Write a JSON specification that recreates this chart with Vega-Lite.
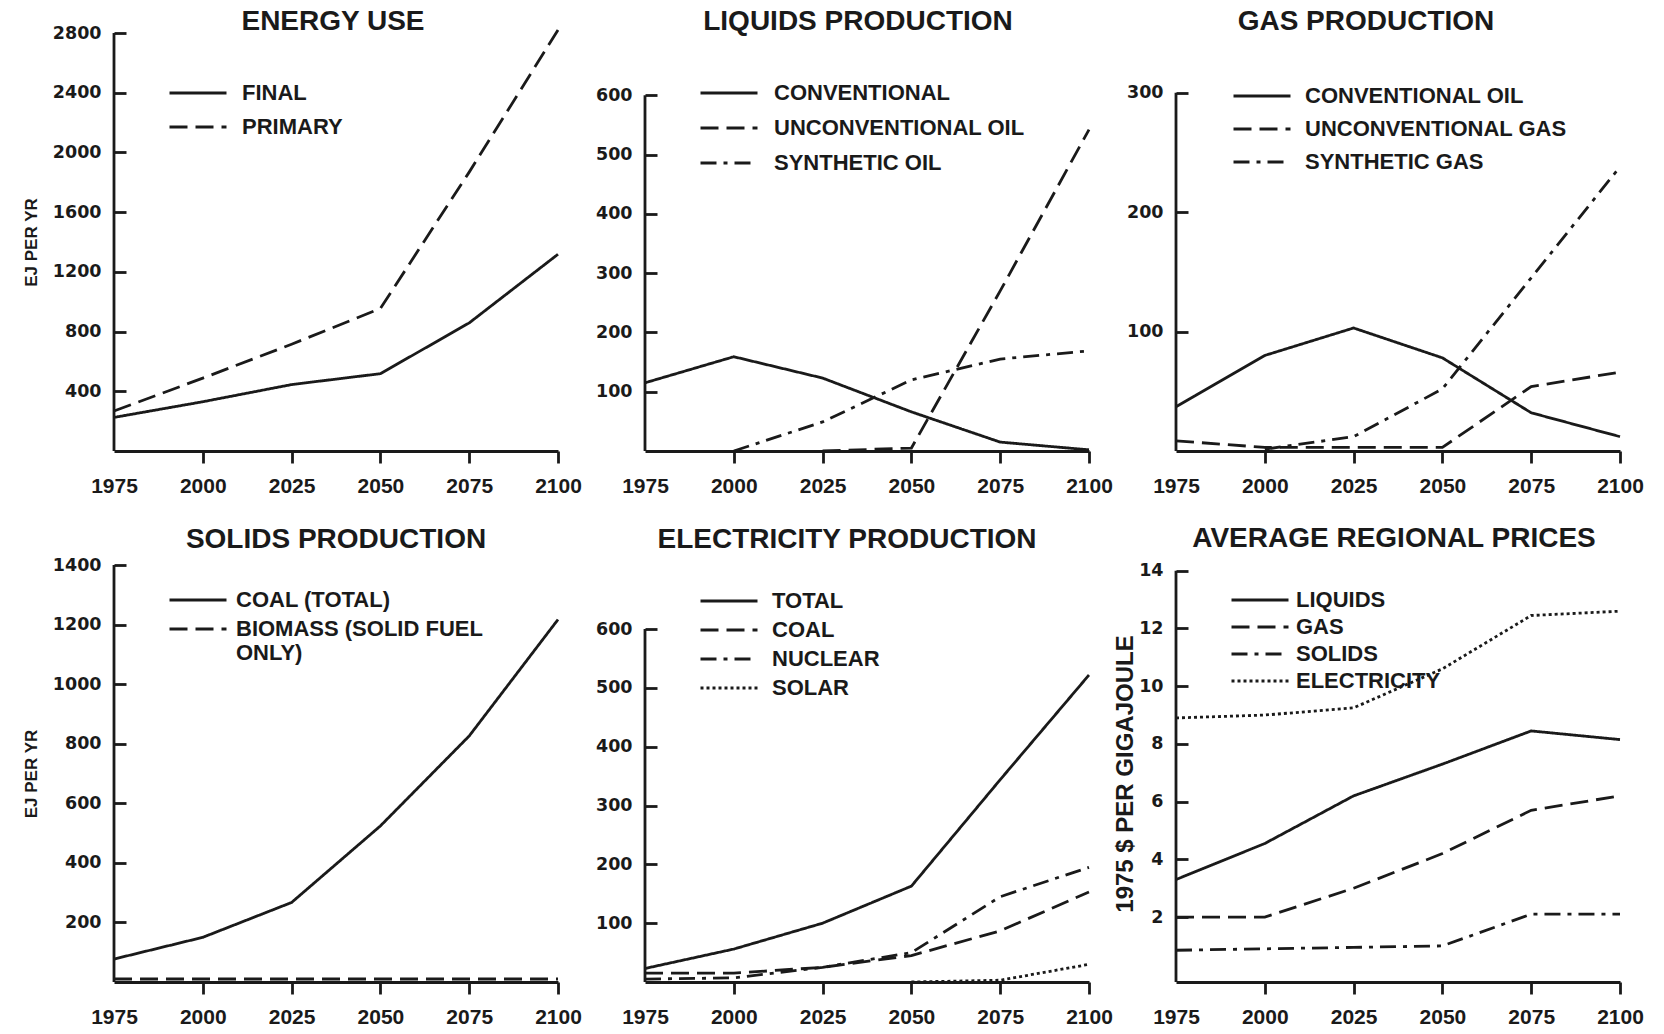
{
  "$schema": "https://vega.github.io/schema/vega-lite/v6.json",
  "background": "white",
  "padding": {"left": 22, "top": 7, "right": 10, "bottom": 6},
  "datasets": {
    "energy": [
      {"year": 1975, "series": "FINAL", "value": 225},
      {"year": 2000, "series": "FINAL", "value": 330},
      {"year": 2025, "series": "FINAL", "value": 445},
      {"year": 2050, "series": "FINAL", "value": 518},
      {"year": 2075, "series": "FINAL", "value": 858},
      {"year": 2100, "series": "FINAL", "value": 1318},
      {"year": 1975, "series": "PRIMARY", "value": 268},
      {"year": 2000, "series": "PRIMARY", "value": 488},
      {"year": 2025, "series": "PRIMARY", "value": 715},
      {"year": 2050, "series": "PRIMARY", "value": 955},
      {"year": 2075, "series": "PRIMARY", "value": 1868},
      {"year": 2100, "series": "PRIMARY", "value": 2820}
    ],
    "liquids": [
      {"year": 1975, "series": "CONVENTIONAL", "value": 115},
      {"year": 2000, "series": "CONVENTIONAL", "value": 159},
      {"year": 2025, "series": "CONVENTIONAL", "value": 123},
      {"year": 2050, "series": "CONVENTIONAL", "value": 66},
      {"year": 2075, "series": "CONVENTIONAL", "value": 15},
      {"year": 2100, "series": "CONVENTIONAL", "value": 2},
      {"year": 2025, "series": "UNCONVENTIONAL OIL", "value": 0},
      {"year": 2050, "series": "UNCONVENTIONAL OIL", "value": 5},
      {"year": 2075, "series": "UNCONVENTIONAL OIL", "value": 270},
      {"year": 2100, "series": "UNCONVENTIONAL OIL", "value": 542},
      {"year": 2000, "series": "SYNTHETIC OIL", "value": 0},
      {"year": 2025, "series": "SYNTHETIC OIL", "value": 49},
      {"year": 2050, "series": "SYNTHETIC OIL", "value": 120},
      {"year": 2075, "series": "SYNTHETIC OIL", "value": 155},
      {"year": 2100, "series": "SYNTHETIC OIL", "value": 169}
    ],
    "gas": [
      {"year": 1975, "series": "CONVENTIONAL OIL", "value": 37},
      {"year": 2000, "series": "CONVENTIONAL OIL", "value": 80},
      {"year": 2025, "series": "CONVENTIONAL OIL", "value": 103},
      {"year": 2050, "series": "CONVENTIONAL OIL", "value": 78},
      {"year": 2075, "series": "CONVENTIONAL OIL", "value": 32},
      {"year": 2100, "series": "CONVENTIONAL OIL", "value": 12},
      {"year": 1975, "series": "UNCONVENTIONAL GAS", "value": 8.5},
      {"year": 2000, "series": "UNCONVENTIONAL GAS", "value": 3},
      {"year": 2025, "series": "UNCONVENTIONAL GAS", "value": 3},
      {"year": 2050, "series": "UNCONVENTIONAL GAS", "value": 3},
      {"year": 2075, "series": "UNCONVENTIONAL GAS", "value": 54},
      {"year": 2100, "series": "UNCONVENTIONAL GAS", "value": 66},
      {"year": 2000, "series": "SYNTHETIC GAS", "value": 1.5},
      {"year": 2025, "series": "SYNTHETIC GAS", "value": 12},
      {"year": 2050, "series": "SYNTHETIC GAS", "value": 52},
      {"year": 2075, "series": "SYNTHETIC GAS", "value": 145},
      {"year": 2100, "series": "SYNTHETIC GAS", "value": 238}
    ],
    "solids": [
      {"year": 1975, "series": "COAL (TOTAL)", "value": 77},
      {"year": 2000, "series": "COAL (TOTAL)", "value": 150},
      {"year": 2025, "series": "COAL (TOTAL)", "value": 267},
      {"year": 2050, "series": "COAL (TOTAL)", "value": 524},
      {"year": 2075, "series": "COAL (TOTAL)", "value": 826},
      {"year": 2100, "series": "COAL (TOTAL)", "value": 1217},
      {"year": 1975, "series": "BIOMASS (SOLID FUEL ONLY)", "value": 10},
      {"year": 2000, "series": "BIOMASS (SOLID FUEL ONLY)", "value": 10},
      {"year": 2025, "series": "BIOMASS (SOLID FUEL ONLY)", "value": 10},
      {"year": 2050, "series": "BIOMASS (SOLID FUEL ONLY)", "value": 10},
      {"year": 2075, "series": "BIOMASS (SOLID FUEL ONLY)", "value": 10},
      {"year": 2100, "series": "BIOMASS (SOLID FUEL ONLY)", "value": 10}
    ],
    "electricity": [
      {"year": 1975, "series": "TOTAL", "value": 23},
      {"year": 2000, "series": "TOTAL", "value": 56},
      {"year": 2025, "series": "TOTAL", "value": 100},
      {"year": 2050, "series": "TOTAL", "value": 163},
      {"year": 2075, "series": "TOTAL", "value": 344},
      {"year": 2100, "series": "TOTAL", "value": 522},
      {"year": 1975, "series": "COAL", "value": 15},
      {"year": 2000, "series": "COAL", "value": 15},
      {"year": 2025, "series": "COAL", "value": 25},
      {"year": 2050, "series": "COAL", "value": 45},
      {"year": 2075, "series": "COAL", "value": 87},
      {"year": 2100, "series": "COAL", "value": 153},
      {"year": 1975, "series": "NUCLEAR", "value": 5},
      {"year": 2000, "series": "NUCLEAR", "value": 7},
      {"year": 2025, "series": "NUCLEAR", "value": 25},
      {"year": 2050, "series": "NUCLEAR", "value": 50},
      {"year": 2075, "series": "NUCLEAR", "value": 145},
      {"year": 2100, "series": "NUCLEAR", "value": 195},
      {"year": 2050, "series": "SOLAR", "value": 0},
      {"year": 2075, "series": "SOLAR", "value": 3},
      {"year": 2100, "series": "SOLAR", "value": 30}
    ],
    "prices": [
      {"year": 1975, "series": "LIQUIDS", "value": 3.3},
      {"year": 2000, "series": "LIQUIDS", "value": 4.55},
      {"year": 2025, "series": "LIQUIDS", "value": 6.2},
      {"year": 2050, "series": "LIQUIDS", "value": 7.3},
      {"year": 2075, "series": "LIQUIDS", "value": 8.45},
      {"year": 2100, "series": "LIQUIDS", "value": 8.15},
      {"year": 1975, "series": "GAS", "value": 2.0},
      {"year": 2000, "series": "GAS", "value": 2.0},
      {"year": 2025, "series": "GAS", "value": 3.0},
      {"year": 2050, "series": "GAS", "value": 4.2},
      {"year": 2075, "series": "GAS", "value": 5.7},
      {"year": 2100, "series": "GAS", "value": 6.2},
      {"year": 1975, "series": "SOLIDS", "value": 0.85},
      {"year": 2000, "series": "SOLIDS", "value": 0.9},
      {"year": 2025, "series": "SOLIDS", "value": 0.95},
      {"year": 2050, "series": "SOLIDS", "value": 1.0},
      {"year": 2075, "series": "SOLIDS", "value": 2.1},
      {"year": 2100, "series": "SOLIDS", "value": 2.1},
      {"year": 1975, "series": "ELECTRICITY", "value": 8.9},
      {"year": 2000, "series": "ELECTRICITY", "value": 9.0},
      {"year": 2025, "series": "ELECTRICITY", "value": 9.25},
      {"year": 2050, "series": "ELECTRICITY", "value": 10.6},
      {"year": 2075, "series": "ELECTRICITY", "value": 12.45},
      {"year": 2100, "series": "ELECTRICITY", "value": 12.6}
    ]
  },
  "columns": 3,
  "spacing": {"row": 114, "column": 87},
  "bounds": "flush",
  "concat": [
    {
      "width": 444, "height": 418,
      "title": {"text": "ENERGY USE", "dx": -3, "offset": -11.7},
      "layer": [
        {
          "data": {"name": "energy"},
          "mark": {"type": "line", "strokeWidth": 2.8, "color": "#1a1a1a"},
          "encoding": {
            "x": {"field": "year", "type": "quantitative", "scale": {"domain": [1975, 2100], "nice": false},
                  "axis": {"values": [1975, 2000, 2025, 2050, 2075, 2100], "format": "d", "title": null,
                           "tickColor": {"condition": {"test": "datum.value === 1975", "value": "transparent"}, "value": "#1a1a1a"}}},
            "y": {"field": "value", "type": "quantitative", "scale": {"domain": [0, 2800], "nice": false},
                  "axis": {"values": [400, 800, 1200, 1600, 2000, 2400, 2800], "format": "d", "offset": -12, "title": "EJ PER YR", "titlePadding": 12}},
            "strokeDash": {"field": "series", "type": "nominal",
                  "scale": {"domain": ["FINAL", "PRIMARY"], "range": [[1, 0], [18, 8]]},
                  "legend": {"title": null, "orient": "none", "legendX": 54, "legendY": 49, "rowPadding": 12, "labelOffset": 14}}
          }
        },
        {
          "data": {"values": [{}]},
          "mark": {"type": "rule", "strokeWidth": 2.8, "color": "#1a1a1a"},
          "encoding": {"x": {"datum": 1975}, "y": {"datum": 0}, "y2": {"datum": 2800}}
        }
      ]
    },
    {
      "width": 444, "height": 418,
      "title": {"text": "LIQUIDS PRODUCTION", "dx": -9, "offset": -2.7},
      "layer": [
        {
          "data": {"name": "liquids"},
          "mark": {"type": "line", "strokeWidth": 2.8, "color": "#1a1a1a"},
          "encoding": {
            "x": {"field": "year", "type": "quantitative", "scale": {"domain": [1975, 2100], "nice": false},
                  "axis": {"values": [1975, 2000, 2025, 2050, 2075, 2100], "format": "d", "title": null,
                           "tickColor": {"condition": {"test": "datum.value === 1975", "value": "transparent"}, "value": "#1a1a1a"}}},
            "y": {"field": "value", "type": "quantitative", "scale": {"domain": [0, 705], "nice": false},
                  "axis": {"values": [100, 200, 300, 400, 500, 600], "format": "d", "offset": -12, "title": null}},
            "strokeDash": {"field": "series", "type": "nominal",
                  "scale": {"domain": ["CONVENTIONAL", "UNCONVENTIONAL OIL", "SYNTHETIC OIL"], "range": [[1, 0], [18, 8], [16, 7, 4, 7]]},
                  "legend": {"title": null, "orient": "none", "legendX": 54, "legendY": 49, "rowPadding": 13, "labelOffset": 15}}
          }
        },
        {
          "data": {"values": [{}]},
          "mark": {"type": "rule", "strokeWidth": 2.8, "color": "#1a1a1a"},
          "encoding": {"x": {"datum": 1975}, "y": {"datum": 0}, "y2": {"datum": 600}}
        }
      ]
    },
    {
      "width": 444, "height": 418,
      "title": {"text": "GAS PRODUCTION", "dx": -32, "offset": -2.7},
      "layer": [
        {
          "data": {"name": "gas"},
          "mark": {"type": "line", "strokeWidth": 2.8, "color": "#1a1a1a"},
          "encoding": {
            "x": {"field": "year", "type": "quantitative", "scale": {"domain": [1975, 2100], "nice": false},
                  "axis": {"values": [1975, 2000, 2025, 2050, 2075, 2100], "format": "d", "title": null,
                           "tickColor": {"condition": {"test": "datum.value === 1975", "value": "transparent"}, "value": "#1a1a1a"}}},
            "y": {"field": "value", "type": "quantitative", "scale": {"domain": [0, 350], "nice": false},
                  "axis": {"values": [100, 200, 300], "format": "d", "offset": -12, "title": null}},
            "strokeDash": {"field": "series", "type": "nominal",
                  "scale": {"domain": ["CONVENTIONAL OIL", "UNCONVENTIONAL GAS", "SYNTHETIC GAS"], "range": [[1, 0], [18, 8], [16, 7, 4, 7]]},
                  "legend": {"title": null, "orient": "none", "legendX": 56, "legendY": 52, "rowPadding": 11, "labelOffset": 13}}
          }
        },
        {
          "data": {"values": [{}]},
          "mark": {"type": "rule", "strokeWidth": 2.8, "color": "#1a1a1a"},
          "encoding": {"x": {"datum": 1975}, "y": {"datum": 0}, "y2": {"datum": 300}}
        }
      ]
    },
    {
      "width": 444, "height": 417,
      "title": {"text": "SOLIDS PRODUCTION", "dx": 0, "offset": 2.5},
      "layer": [
        {
          "data": {"name": "solids"},
          "mark": {"type": "line", "strokeWidth": 2.8, "color": "#1a1a1a"},
          "encoding": {
            "x": {"field": "year", "type": "quantitative", "scale": {"domain": [1975, 2100], "nice": false},
                  "axis": {"values": [1975, 2000, 2025, 2050, 2075, 2100], "format": "d", "title": null,
                           "tickColor": {"condition": {"test": "datum.value === 1975", "value": "transparent"}, "value": "#1a1a1a"}}},
            "y": {"field": "value", "type": "quantitative", "scale": {"domain": [0, 1400], "nice": false},
                  "axis": {"values": [200, 400, 600, 800, 1000, 1200, 1400], "format": "d", "offset": -12, "title": "EJ PER YR", "titlePadding": 12}},
            "strokeDash": {"field": "series", "type": "nominal",
                  "scale": {"domain": ["COAL (TOTAL)", "BIOMASS (SOLID FUEL ONLY)"], "range": [[1, 0], [18, 8]]},
                  "legend": {"title": null, "orient": "none", "legendX": 54, "legendY": 24, "rowPadding": 7, "labelOffset": 8,
                             "labelExpr": "datum.label == 'BIOMASS (SOLID FUEL ONLY)' ? ['BIOMASS (SOLID FUEL', 'ONLY)'] : datum.label"}}
          }
        },
        {
          "data": {"values": [{}]},
          "mark": {"type": "rule", "strokeWidth": 2.8, "color": "#1a1a1a"},
          "encoding": {"x": {"datum": 1975}, "y": {"datum": 0}, "y2": {"datum": 1400}}
        }
      ]
    },
    {
      "width": 444, "height": 417,
      "title": {"text": "ELECTRICITY PRODUCTION", "dx": -20, "offset": 11.5},
      "layer": [
        {
          "data": {"name": "electricity"},
          "mark": {"type": "line", "strokeWidth": 2.8, "color": "#1a1a1a"},
          "encoding": {
            "x": {"field": "year", "type": "quantitative", "scale": {"domain": [1975, 2100], "nice": false},
                  "axis": {"values": [1975, 2000, 2025, 2050, 2075, 2100], "format": "d", "title": null,
                           "tickColor": {"condition": {"test": "datum.value === 1975", "value": "transparent"}, "value": "#1a1a1a"}}},
            "y": {"field": "value", "type": "quantitative", "scale": {"domain": [0, 709], "nice": false},
                  "axis": {"values": [100, 200, 300, 400, 500, 600], "format": "d", "offset": -12, "title": null}},
            "strokeDash": {"field": "series", "type": "nominal",
                  "scale": {"domain": ["TOTAL", "COAL", "NUCLEAR", "SOLAR"], "range": [[1, 0], [18, 8], [16, 7, 4, 7], [3, 3]]},
                  "legend": {"title": null, "orient": "none", "legendX": 54, "legendY": 25, "rowPadding": 7, "labelOffset": 13}}
          }
        },
        {
          "data": {"values": [{}]},
          "mark": {"type": "rule", "strokeWidth": 2.8, "color": "#1a1a1a"},
          "encoding": {"x": {"datum": 1975}, "y": {"datum": 0}, "y2": {"datum": 600}}
        }
      ]
    },
    {
      "width": 444, "height": 417,
      "title": {"text": "AVERAGE REGIONAL PRICES", "dx": -4, "offset": 8.7},
      "layer": [
        {
          "data": {"name": "prices"},
          "mark": {"type": "line", "strokeWidth": 2.8, "color": "#1a1a1a"},
          "encoding": {
            "x": {"field": "year", "type": "quantitative", "scale": {"domain": [1975, 2100], "nice": false},
                  "axis": {"values": [1975, 2000, 2025, 2050, 2075, 2100], "format": "d", "title": null,
                           "tickColor": {"condition": {"test": "datum.value === 1975", "value": "transparent"}, "value": "#1a1a1a"}}},
            "y": {"field": "value", "type": "quantitative", "scale": {"domain": [-0.25, 14.2], "nice": false, "zero": false},
                  "axis": {"values": [2, 4, 6, 8, 10, 12, 14], "format": "d", "offset": -12, "title": "1975 $ PER GIGAJOULE", "titleFontSize": 24, "titlePadding": 1}},
            "strokeDash": {"field": "series", "type": "nominal",
                  "scale": {"domain": ["LIQUIDS", "GAS", "SOLIDS", "ELECTRICITY"], "range": [[1, 0], [18, 8], [16, 7, 4, 7], [3, 3]]},
                  "legend": {"title": null, "orient": "none", "legendX": 54, "legendY": 24, "rowPadding": 5, "labelOffset": 6}}
          }
        },
        {
          "data": {"values": [{}]},
          "mark": {"type": "rule", "strokeWidth": 2.8, "color": "#1a1a1a"},
          "encoding": {"x": {"datum": 1975}, "y": {"datum": -0.25}, "y2": {"datum": 14}}
        }
      ]
    }
  ],
  "resolve": {"scale": {"strokeDash": "independent", "x": "independent", "y": "independent"}, "legend": {"strokeDash": "independent"}, "axis": {"x": "independent", "y": "independent"}},
  "config": {
    "view": {"stroke": null},
    "font": "Liberation Sans",
    "title": {"fontSize": 28, "fontWeight": "bold", "color": "#1a1a1a", "frame": "group", "anchor": "middle"},
    "axis": {
      "labelFontWeight": "bold", "labelColor": "#1a1a1a",
      "tickColor": "#1a1a1a", "tickWidth": 2.8, "domainColor": "#1a1a1a", "domainWidth": 2.8, "grid": false,
      "titleFont": "Liberation Sans", "titleFontSize": 17, "titleFontWeight": "bold", "titleColor": "#1a1a1a"
    },
    "axisY": {"tickSize": 12, "labelPadding": 13, "domain": false, "labelFont": "DejaVu Sans", "labelFontSize": 17.5},
    "axisX": {"tickSize": 12, "labelPadding": 12, "labelFont": "Liberation Sans", "labelFontSize": 21, "labelFlush": false},
    "legend": {
      "labelFont": "Liberation Sans", "labelFontSize": 22, "labelFontWeight": "bold", "labelColor": "#1a1a1a", "labelLimit": 600,
      "symbolType": "stroke", "symbolStrokeColor": "#1a1a1a", "symbolStrokeWidth": 2.8, "symbolSize": 3249,
      "clipHeight": 22, "padding": 0
    }
  }
}
